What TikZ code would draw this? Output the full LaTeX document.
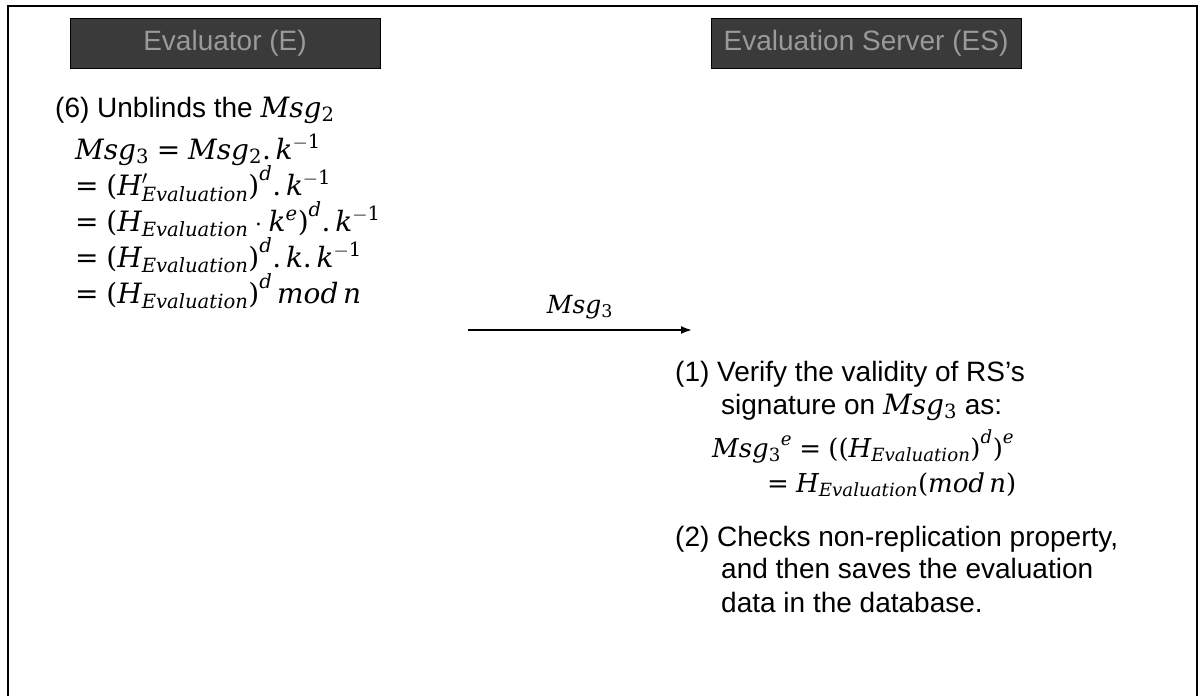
\RequirePackage{fix-cm}
\documentclass[tikz,border=0pt]{standalone}
\usepackage[no-math]{fontspec}
\setmainfont{Liberation Sans}
\newfontfamily\dvserif{DejaVu Serif}[NFSSFamily=dvserif]
\DeclareSymbolFont{letters}{TU}{dvserif}{m}{it}
\DeclareSymbolFont{operators}{TU}{dvserif}{m}{n}
\mathcode`\.="602E
\usetikzlibrary{arrows.meta}
\definecolor{hdrbg}{HTML}{3A3A3A}
\definecolor{hdrfg}{HTML}{9A9A9A}
\begin{document}
\begin{tikzpicture}[x=1pt,y=-1pt,
  hdr/.style={draw=black,fill=hdrbg,text=hdrfg,minimum width=310pt,minimum height=50pt,font=\fontsize{28}{30}\selectfont,inner sep=0pt},
  txt/.style={anchor=base west,inner sep=0pt,font=\fontsize{28}{32}\selectfont},
  eq/.style={anchor=base west,inner sep=0pt,font=\fontsize{28}{34}\selectfont},
  eqs/.style={anchor=base west,inner sep=0pt,font=\fontsize{26}{32}\selectfont},
  msg/.style={-{Latex[length=11pt,width=8pt]},line width=1.8pt}]
\useasboundingbox (0,0) rectangle (1203,696);
\draw[line width=1.5pt] (8,696) -- (8,6) -- (1197,6) -- (1197,696);
\node[hdr] (hE) at (225,43) {Evaluator (E)};
\node[hdr] (hES) at (866,43) {Evaluation Server (ES)};
\node[txt] (t6) at (55,117) {(6) Unblinds the $Msg_2$};
\node[eq] (e1) at (75,159) {$Msg_3 = Msg_2.k^{-1}$};
\node[eq] (e2) at (75,195) {$= (H'_{Evaluation})^d.k^{-1}$};
\node[eq] (e3) at (75,231) {$= (H_{Evaluation}\cdot k^e)^d.k^{-1}$};
\node[eq] (e4) at (75,267) {$= (H_{Evaluation})^d.k.k^{-1}$};
\node[eq] (e5) at (75,303) {$= (H_{Evaluation})^d\,mod\,n$};
\coordinate (a1) at (468,330);
\coordinate (a2) at (692,330);
\draw[msg] (a1) -- (a2) node[midway,above=7pt,font=\fontsize{25}{30}\selectfont] (m3) {$Msg_3$};
\node[txt] (r1) at (675,381) {(1) Verify the validity of RS's};
\node[txt] (r2) at (721,414) {signature on $Msg_3$ as:};
\node[eqs] (r3) at (712,457) {${Msg_3}^e = ((H_{Evaluation})^d)^e$};
\node[eqs] (r4) at (767,492) {$= H_{Evaluation}(mod\,n)$};
\node[txt] (r5) at (675,546) {(2) Checks non-replication property,};
\node[txt] (r6) at (721,578) {and then saves the evaluation};
\node[txt] (r7) at (721,612) {data in the database.};
\end{tikzpicture}
\end{document}
